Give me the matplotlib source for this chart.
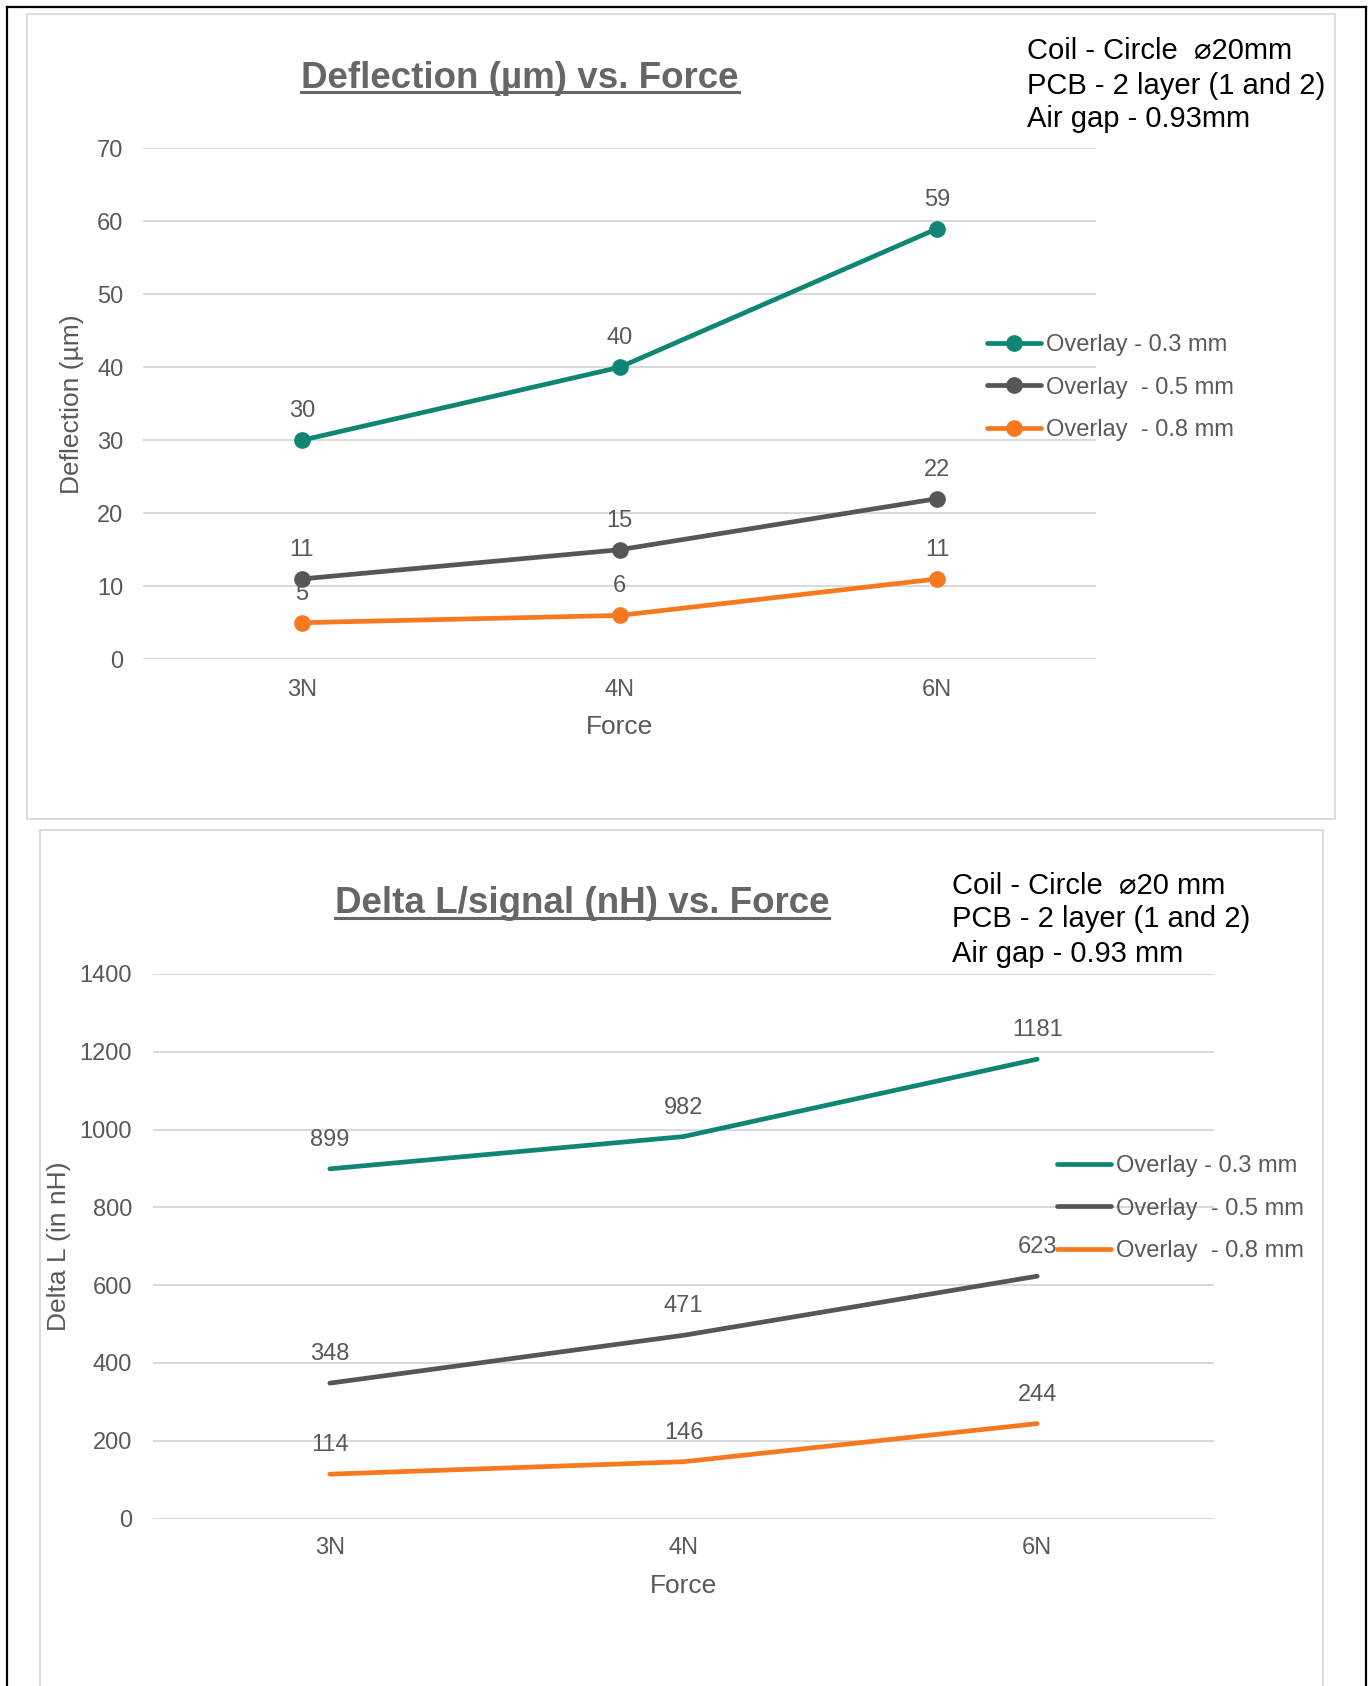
import matplotlib
matplotlib.use("Agg")
import matplotlib.pyplot as plt
from matplotlib.lines import Line2D
from matplotlib.patches import Rectangle

plt.rcParams['font.family'] = ['Liberation Sans', 'DejaVu Sans']

# ---- data ----
forces = ["3N", "4N", "6N"]
series_labels = ["Overlay - 0.3 mm", "Overlay  - 0.5 mm", "Overlay  - 0.8 mm"]

deflection_03 = [30, 40, 59]
deflection_05 = [11, 15, 22]
deflection_08 = [5, 6, 11]
deflection_ticks = [0, 10, 20, 30, 40, 50, 60, 70]

delta_l_03 = [899, 982, 1181]
delta_l_05 = [348, 471, 623]
delta_l_08 = [114, 146, 244]
delta_l_ticks = [0, 200, 400, 600, 800, 1000, 1200, 1400]

notes_top = ["Coil - Circle  \u230020mm", "PCB - 2 layer (1 and 2)", "Air gap - 0.93mm"]
notes_bottom = ["Coil - Circle  \u230020 mm", "PCB - 2 layer (1 and 2)", "Air gap - 0.93 mm"]

colors = ["#0F8574", "#595555", "#F7791F"]
TEXT_GRAY = "#595959"
TITLE_GRAY = "#666666"
GRID_GRAY = "#D9D9D9"

W, H = 1370, 1686
fig = plt.figure(figsize=(W / 100, H / 100), dpi=100)


def fx(px):
    return px / W


def fy(py):
    return 1 - py / H


# outer frame (open at the bottom) and the two chart panels
for xs, ys in [([7, 7], [7, H + 10]), ([7, 1366], [7, 7]), ([1366, 1366], [7, H + 10])]:
    fig.add_artist(Line2D([fx(x) for x in xs], [fy(y) for y in ys],
                          transform=fig.transFigure, color="black", lw=1.6))
fig.add_artist(Rectangle((fx(27), fy(819)), fx(1335) - fx(27), fy(14) - fy(819),
                         transform=fig.transFigure, fill=False, ec=GRID_GRAY, lw=1.3))
fig.add_artist(Rectangle((fx(40), fy(H + 20)), fx(1323) - fx(40), fy(830) - fy(H + 20),
                         transform=fig.transFigure, fill=False, ec=GRID_GRAY, lw=1.3))


def draw_chart(box, series, ticks, ylabel, markers, label_x_px, xlabel_y_px,
               ytick_pad, xtick_pad, legend_xy):
    left, top, right, bottom = box
    ax = fig.add_axes([fx(left), fy(bottom), fx(right) - fx(left), fy(top) - fy(bottom)])
    x = list(range(len(forces)))
    for vals, lab, col in zip(series, series_labels, colors):
        ax.plot(x, vals, color=col, lw=3.4, label=lab, solid_capstyle="round",
                marker="o" if markers else None, markersize=11, zorder=3)
        for xi, v in zip(x, vals):
            ax.annotate(str(v), (xi, v), xytext=(0, 29), textcoords="offset pixels",
                        ha="center", va="center", fontsize=17, color=TEXT_GRAY, zorder=4)
    ax.set_xlim(-0.5, len(forces) - 0.5)
    ax.set_ylim(ticks[0], ticks[-1])
    ax.set_yticks(ticks)
    ax.set_xticks(x)
    ax.set_xticklabels(forces)
    ax.grid(axis="y", color=GRID_GRAY, lw=1.4)
    ax.set_axisbelow(True)
    for s in ax.spines.values():
        s.set_visible(False)
    ax.tick_params(axis="both", length=0, labelsize=17, labelcolor=TEXT_GRAY)
    ax.tick_params(axis="y", pad=ytick_pad)
    ax.tick_params(axis="x", pad=xtick_pad)
    ax.set_ylabel(ylabel, fontsize=19, color=TEXT_GRAY, va="center")
    ax.yaxis.set_label_coords((label_x_px - left) / (right - left), 0.5)
    ax.set_xlabel("Force", fontsize=19, color=TEXT_GRAY, va="center")
    ax.xaxis.set_label_coords(0.5, (bottom - xlabel_y_px) / (bottom - top))
    leg = ax.legend(loc="upper left", bbox_to_anchor=(fx(legend_xy[0]), fy(legend_xy[1])),
                    bbox_transform=fig.transFigure, frameon=False, fontsize=17,
                    handlelength=2.3, handletextpad=0.2, labelspacing=0.87,
                    borderpad=0, borderaxespad=0)
    for t in leg.get_texts():
        t.set_color(TEXT_GRAY)
    return ax


draw_chart((143, 148.4, 1096, 659.2), [deflection_03, deflection_05, deflection_08],
           deflection_ticks, "Deflection (\u00b5m)", True, 72, 727, 14, 14, (987, 334))
draw_chart((153, 974, 1214, 1518.5), [delta_l_03, delta_l_05, delta_l_08],
           delta_l_ticks, "Delta L (in nH)", False, 59, 1586, 15, 13, (1057, 1155))

# titles (underlined) and notes
titles = [("Deflection (\u00b5m) vs. Force", 520, 87.5), ("Delta L/signal (nH) vs. Force", 582, 913)]
title_texts = []
for txt, cx, by in titles:
    t = fig.text(fx(cx), fy(by), txt, ha="center", va="baseline", fontsize=26.5,
                 fontweight="bold", color=TITLE_GRAY)
    title_texts.append((t, by))

for lines, nx, ys in [(notes_top, 1027, [51, 86, 119]), (notes_bottom, 952, [886, 919, 954])]:
    for line, y in zip(lines, ys):
        fig.text(fx(nx), fy(y), line, ha="left", va="center", fontsize=21, color="black")

fig.canvas.draw()
renderer = fig.canvas.get_renderer()
for t, by in title_texts:
    bb = t.get_window_extent(renderer)
    uy = fy(by + 4.5)
    fig.add_artist(Line2D([bb.x0 / W, bb.x1 / W], [uy, uy], transform=fig.transFigure,
                          color=TITLE_GRAY, lw=2.2))

fig.savefig("out.png", dpi=100)
